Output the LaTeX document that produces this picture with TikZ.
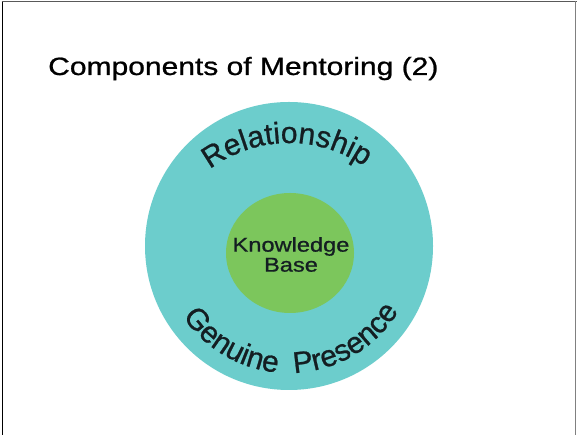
\documentclass[tikz,border=0pt]{standalone}
\usepackage{fontspec}
\setmainfont{Liberation Sans}
\newfontfamily\heavysans{Liberation Sans}[FakeBold=0.8]
\usetikzlibrary{decorations.text,shapes.geometric}
\definecolor{tealfill}{RGB}{108,205,204}
\definecolor{greenfill}{RGB}{124,198,92}
\definecolor{txtdark}{RGB}{20,30,34}
\tikzset{
  ring/.style={circle, fill=tealfill, draw=none, inner sep=0pt},
  core/.style={ellipse, fill=greenfill, draw=none, inner sep=0pt},
  titletext/.style={anchor=base west, inner sep=0pt, xscale=1.2, font=\heavysans\fontsize{25}{30}\selectfont},
  coretext/.style={align=center, inner sep=0pt, xscale=1.18, text=txtdark, font=\heavysans\fontsize{20}{20}\selectfont}
}
\begin{document}
\begin{tikzpicture}[x=1pt,y=1pt]
\useasboundingbox (0,0) rectangle (577,435);
\fill[white] (0,0) rectangle (577,435);
\draw[black, line width=1.6pt] (2.5,0) -- (2.5,433.5);
\draw[black!65, line width=1.2pt] (1.7,433.3) -- (577,433.3);
\draw[black!50, line width=1pt] (575.5,433.5) -- (575.5,0);
\node[titletext] (title) at (48,360) {Components of Mentoring (2)};
\node[ring, minimum size=288pt] (outer) at (289,189) {};
\node[core, minimum width=128pt, minimum height=120pt] (inner) at (290,182) {};
\node[coretext] (kb) at (291,180.5) {Knowledge\\Base};
\path[decorate, decoration={text along path, text align=center,
  text={|\heavysans\fontsize{30}{32}\selectfont\color{txtdark}|Relationship}}]
  (289,160) ++(130:132) arc (130:52:132);
\path[decorate, decoration={text along path, text align={fit to path stretching spaces},
  text={|\heavysans\fontsize{30}{32}\selectfont\color{txtdark}|Genuine Presence}}]
  (289,190) ++(214:128) arc (214:329:128);
\end{tikzpicture}
\end{document}
